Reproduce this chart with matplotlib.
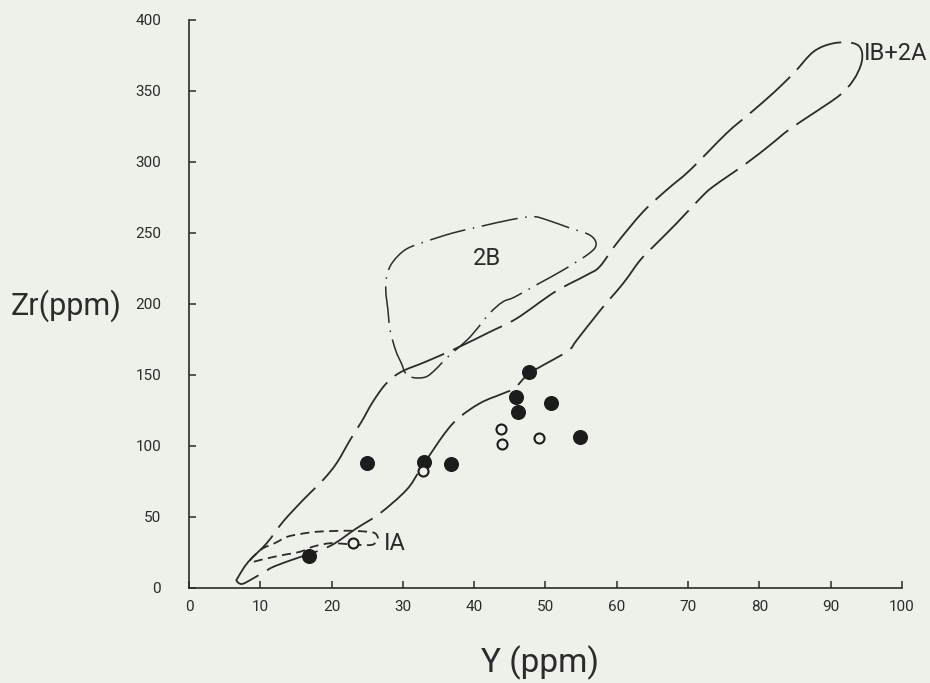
import numpy as np
import matplotlib
matplotlib.use("Agg")
import matplotlib.pyplot as plt
from matplotlib.path import Path
from matplotlib.patches import PathPatch

plt.rcParams['font.family'] = ['Roboto', 'DejaVu Sans']

# Sample analyses: Y (ppm) vs Zr (ppm)
filled_y = [16.9, 25.0, 33.0, 36.7, 47.7, 45.8, 46.1, 50.8, 54.8]
filled_zr = [22.5, 88.3, 88.7, 86.9, 151.7, 134.3, 123.8, 130.1, 106.5]

open_y = [23.0, 32.8, 43.8, 43.9, 49.1]
open_zr = [31.4, 82.2, 112.1, 101.1, 105.8]

# Field outlines (Y, Zr)
field_1b2a = [
    (6.9, 7.7), (8.3, 18.3), (10.9, 31.5), (13.2, 46.7), (16.0, 61.9),
    (18.8, 76.0), (20.7, 87.8), (22.6, 104.2), (24.2, 117.0), (25.8, 131.1),
    (27.7, 144.1), (29.8, 152.2), (33.1, 159.0), (37.5, 168.7), (42.2, 180.2),
    (46.0, 189.8), (51.3, 208.3), (55.8, 220.3), (57.6, 226.1), (60.0, 242.6),
    (63.7, 264.8), (67.0, 280.1), (70.3, 294.2), (75.4, 320.0), (78.7, 334.1),
    (81.9, 348.1), (84.8, 362.2), (87.6, 377.4), (90.4, 383.3), (93.2, 383.3),
    (94.3, 378.6), (94.3, 369.2), (93.2, 357.5), (91.3, 346.9), (87.6, 334.1),
    (84.1, 322.3), (81.5, 311.7), (78.2, 298.9), (73.5, 282.4), (71.7, 274.2),
    (68.4, 256.7), (65.6, 242.6), (63.3, 230.8), (60.9, 214.4), (57.6, 194.9),
    (54.4, 174.5), (53.0, 166.3), (47.9, 151.5), (45.7, 140.7), (44.1, 137.0),
    (40.8, 130.0), (37.5, 118.2), (35.2, 104.2), (32.4, 83.0), (30.5, 69.0),
    (26.8, 52.6), (23.5, 42.0), (19.8, 29.6), (15.6, 21.8), (12.1, 15.5),
    (10.2, 10.3), (8.6, 5.6), (7.4, 2.8), (6.7, 4.9),
]

field_2b = [
    (30.4, 151.0), (29.8, 158.0), (29.0, 167.0), (28.2, 181.6), (27.9, 195.6),
    (27.6, 209.7), (27.8, 221.0), (28.6, 229.5), (30.3, 237.9), (32.6, 242.8),
    (37.0, 249.8), (40.8, 254.3), (45.0, 259.0), (48.2, 261.3), (50.2, 259.0),
    (53.4, 253.3), (56.2, 248.4), (57.1, 242.1), (56.2, 235.7), (52.5, 223.8),
    (49.2, 214.6), (45.7, 204.8), (44.0, 201.3), (42.2, 193.5), (40.5, 183.0),
    (39.0, 174.5), (36.3, 162.6), (34.5, 153.4), (33.2, 148.5), (31.5, 148.0),
]

field_1a = [
    (8.6, 19.7), (10.2, 27.4), (12.1, 31.7), (13.7, 35.9), (15.6, 38.0),
    (18.0, 39.6), (22.2, 40.3), (25.0, 39.6), (26.1, 38.5), (26.5, 35.2),
    (26.3, 32.4), (25.6, 30.3), (24.0, 30.3), (21.9, 31.0), (19.8, 31.5),
    (17.4, 29.1), (15.6, 25.5), (13.6, 23.6), (11.8, 21.8), (10.0, 19.7),
    (8.8, 18.3),
]

x_ticks = list(range(0, 101, 10))
y_ticks = list(range(0, 401, 50))

INK = '#2b2b2b'
PAPER = '#eef0ea'


def closed_curve(pts):
    """Closed Catmull-Rom outline through the given vertices as a Bezier path."""
    p = np.asarray(pts, dtype=float)
    n = len(p)
    verts = [p[0]]
    codes = [Path.MOVETO]
    for i in range(n):
        p0, p1, p2, p3 = p[i - 1], p[i], p[(i + 1) % n], p[(i + 2) % n]
        verts += [p1 + (p2 - p0) / 6.0, p2 - (p3 - p1) / 6.0, p2]
        codes += [Path.CURVE4] * 3
    return Path(verts, codes)


fig = plt.figure(figsize=(9.3, 6.83), dpi=100, facecolor=PAPER)
ax = fig.add_axes([0.2032, 0.1391, 0.7667, 0.8323], facecolor=PAPER)

ax.add_patch(PathPatch(closed_curve(field_1b2a), fill=False, edgecolor=INK,
                       lw=1.3, linestyle=(0, (30, 5.5)), zorder=2))
ax.add_patch(PathPatch(closed_curve(field_2b), fill=False, edgecolor=INK,
                       lw=1.1, linestyle=(0, (24, 5, 1, 5)), zorder=2))
ax.add_patch(PathPatch(closed_curve(field_1a), fill=False, edgecolor=INK,
                       lw=1.3, linestyle=(0, (5, 3)), zorder=2))

ax.plot(filled_y, filled_zr, 'o', ms=9.8, color='#1c1c1c', mec='#1c1c1c', zorder=4)
ax.plot(open_y, open_zr, 'o', ms=7.2, mfc=PAPER, mec='#1c1c1c', mew=1.5, zorder=4)

ax.text(94.6, 376, 'IB+2A', fontsize=17, color=INK, ha='left', va='center')
ax.text(41.8, 232, '2B', fontsize=17, color=INK, ha='center', va='center')
ax.text(27.3, 31.5, 'IA', fontsize=17, color=INK, ha='left', va='center')

ax.set_xlim(0, 100)
ax.set_ylim(0, 400)
ax.set_xticks(x_ticks)
ax.set_yticks(y_ticks)
ax.spines['top'].set_visible(False)
ax.spines['right'].set_visible(False)
for s in ('left', 'bottom'):
    ax.spines[s].set_color(INK)
    ax.spines[s].set_linewidth(1.2)
ax.tick_params(direction='in', length=5, width=1.1, color=INK,
               labelcolor=INK, labelsize=11)
ax.tick_params(axis='y', pad=20)
ax.tick_params(axis='x', pad=9)

fig.text(0.012, 0.553, 'Zr(ppm)', fontsize=22, color=INK, ha='left', va='center')
fig.text(0.581, 0.030, 'Y (ppm)', fontsize=24, color=INK, ha='center', va='center')

fig.savefig('out.png', dpi=100, facecolor=PAPER)
